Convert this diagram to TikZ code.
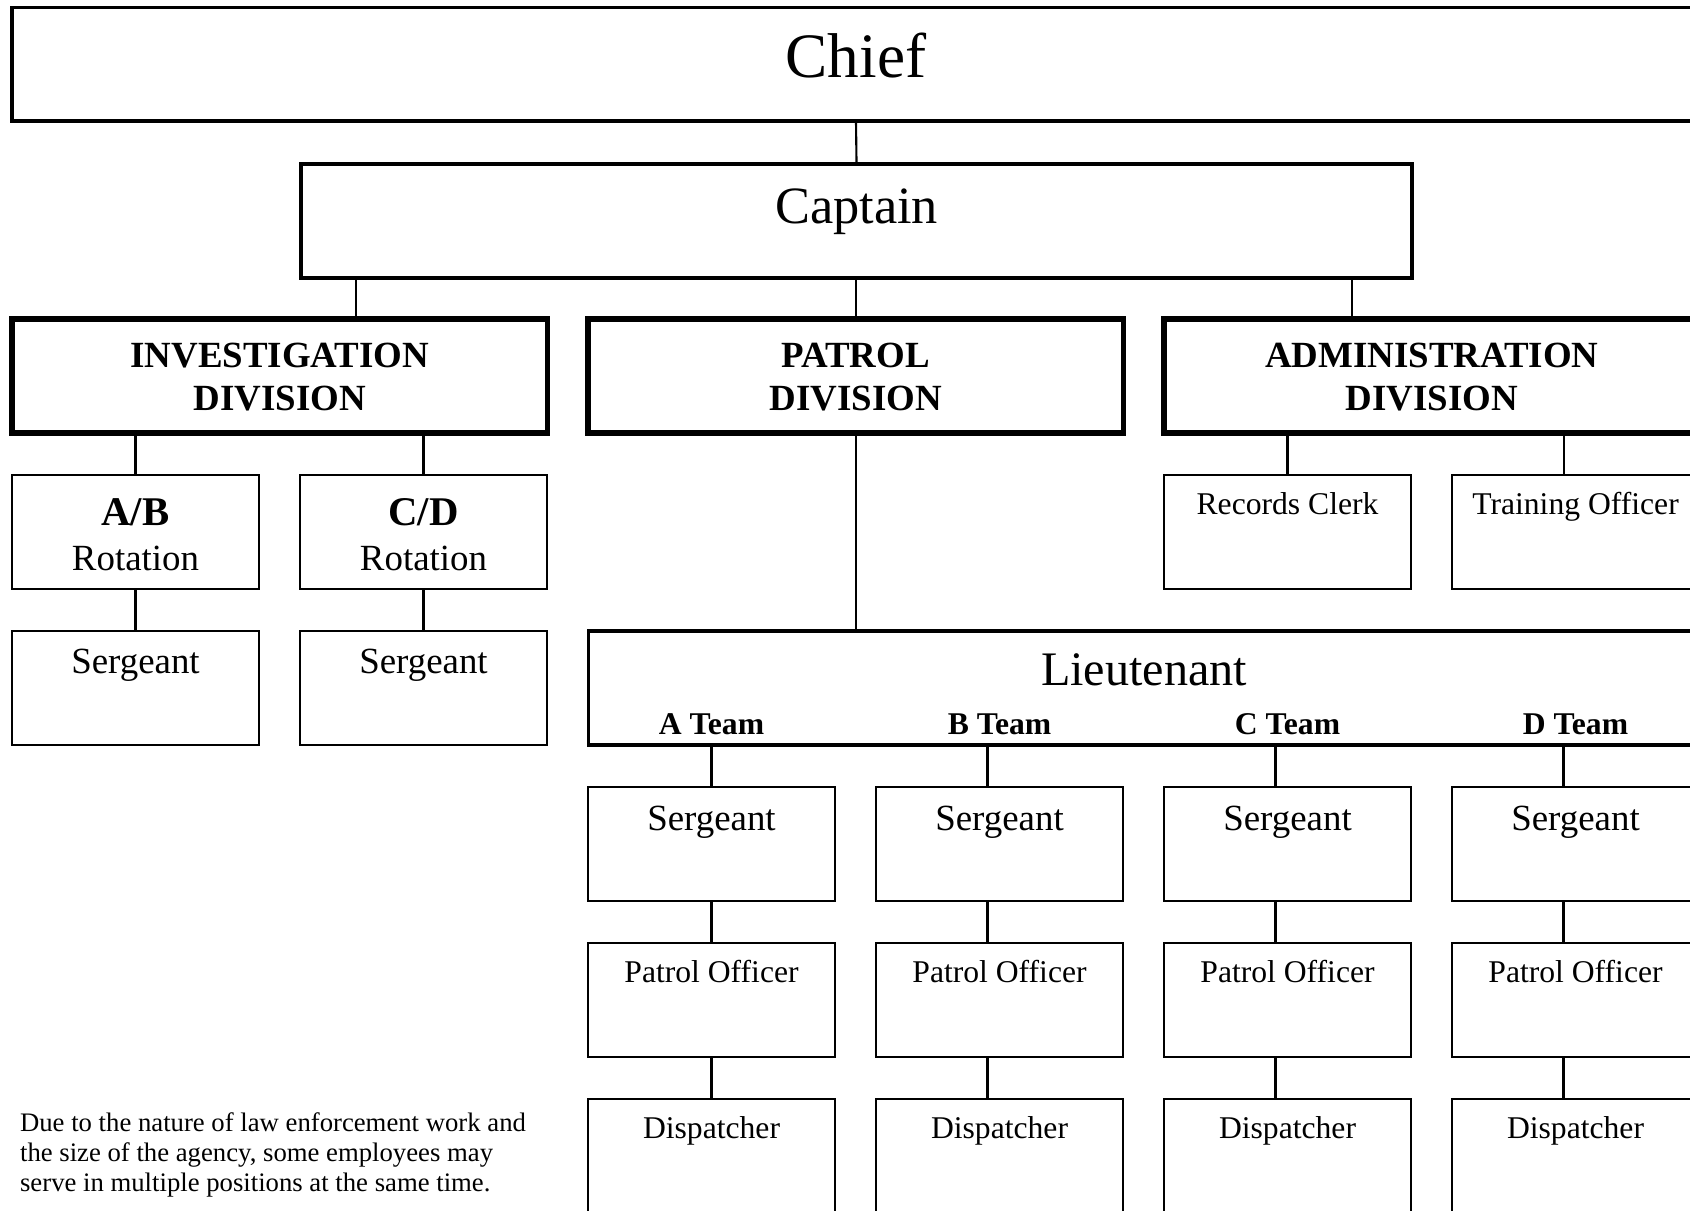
\documentclass[tikz,border=0pt]{standalone}
\usepackage{fontspec}
\setmainfont{Liberation Serif}
\usetikzlibrary{positioning}

\begin{document}
\begin{tikzpicture}[
    headbox/.style={rectangle, draw, line width=0.95pt, inner sep=0pt},
    division/.style={rectangle, draw, line width=1.6pt, inner sep=0pt, minimum width=5.355cm, align=center, font=\fontsize{10.5}{12.2}\selectfont\bfseries, text height=0.91cm, text depth=0.23cm},
    post/.style={rectangle, draw, line width=0.65pt, inner sep=0pt, minimum width=2.47cm, font=\fontsize{10.5}{12.8}\selectfont},
    staff/.style={post, font=\fontsize{9}{10.8}\selectfont, text height=0.39cm, text depth=0.75cm},
    team/.style={font=\fontsize{9}{10.8}\selectfont\bfseries, anchor=base, inner sep=0pt},
    link/.style={line width=0.6pt}
]
\useasboundingbox (0,0) rectangle (16.9,-12.1);
\clip (0,0) rectangle (16.9,-12.1);

% Command
\node[headbox, minimum width=16.88cm, font=\fontsize{18}{21}\selectfont, text height=0.705cm, text depth=0.43cm] (chief) at (8.56,-0.6425) {Chief};
\node[headbox, minimum width=11.11cm, font=\fontsize{14.9}{18}\selectfont, text height=0.60cm, text depth=0.54cm] (capt) at (8.565,-2.21) {Captain};

% Divisions
\node[division] (inv) at (2.7975,-3.76) {INVESTIGATION\\DIVISION};
\node[division] (patrol) at (8.5575,-3.76) {PATROL\\DIVISION};
\node[division] (admin) at (14.3175,-3.76) {ADMINISTRATION\\DIVISION};

% Investigation
\node[post, align=center, text height=0.95cm, text depth=0.19cm] (ab) at (1.355,-5.32) {{\fontsize{11.6}{12.8}\selectfont\bfseries A/B}\\Rotation};
\node[post, align=center, text height=0.95cm, text depth=0.19cm] (cd) at (4.235,-5.32) {{\fontsize{11.6}{12.8}\selectfont\bfseries C/D}\\Rotation};
\node[post, text height=0.42cm, text depth=0.72cm] (serAB) at (1.355,-6.88) {Sergeant};
\node[post, text height=0.42cm, text depth=0.72cm] (serCD) at (4.235,-6.88) {Sergeant};

% Administration
\node[staff] (records) at (12.875,-5.32) {Records Clerk};
\node[staff] (training) at (15.755,-5.32) {Training Officer};

% Patrol
\node[headbox, minimum width=11.11cm, font=\fontsize{13.7}{16}\selectfont, text height=0.545cm, text depth=0.595cm] (lieut) at (11.44,-6.88) {Lieutenant};
\node[team] (teamA) at (7.115,-7.34) {A Team};
\node[team] (teamB) at (9.995,-7.34) {B Team};
\node[team] (teamC) at (12.875,-7.34) {C Team};
\node[team] (teamD) at (15.755,-7.34) {D Team};

\node[post, text height=0.43cm, text depth=0.71cm] (serA) at (7.115,-8.44) {Sergeant};
\node[post, text height=0.43cm, text depth=0.71cm] (serB) at (9.995,-8.44) {Sergeant};
\node[post, text height=0.43cm, text depth=0.71cm] (serC) at (12.875,-8.44) {Sergeant};
\node[post, text height=0.43cm, text depth=0.71cm] (serD) at (15.755,-8.44) {Sergeant};

\node[staff] (polA) at (7.115,-10.0) {Patrol Officer};
\node[staff] (polB) at (9.995,-10.0) {Patrol Officer};
\node[staff] (polC) at (12.875,-10.0) {Patrol Officer};
\node[staff] (polD) at (15.755,-10.0) {Patrol Officer};

\node[staff] (disA) at (7.115,-11.56) {Dispatcher};
\node[staff] (disB) at (9.995,-11.56) {Dispatcher};
\node[staff] (disC) at (12.875,-11.56) {Dispatcher};
\node[staff] (disD) at (15.755,-11.56) {Dispatcher};

% Note
\node[anchor=north west, inner sep=0pt, align=left, font=\fontsize{7.6}{8.6}\selectfont] (note) at (0.194,-11.12) {Due to the nature of law enforcement work and\\the size of the agency, some employees may\\serve in multiple positions at the same time.};

% Links
\coordinate (jInv) at ([xshift=7.625mm]inv.north);
\coordinate (jAdmin) at ([xshift=-7.975mm]admin.north);
\coordinate (jTrain) at ([xshift=-1.15mm]training.north);
\coordinate (jB) at ([xshift=-1.2mm]serB.north);
\coordinate (jC) at ([xshift=-1.2mm]serC.north);
\coordinate (jD) at ([xshift=-1.2mm]serD.north);

\draw[link] (chief.south) -- (capt.north);
\draw[link] (jInv |- capt.south) -- (jInv);
\draw[link] (capt.south -| patrol.north) -- (patrol.north);
\draw[link] (jAdmin |- capt.south) -- (jAdmin);

\draw[link] (ab.north |- inv.south) -- (ab.north);
\draw[link] (cd.north |- inv.south) -- (cd.north);
\draw[link] (ab.south) -- (serAB.north);
\draw[link] (cd.south) -- (serCD.north);

\draw[link] (records.north |- admin.south) -- (records.north);
\draw[link] (jTrain |- admin.south) -- (jTrain);

\draw[link] (patrol.south) -- (patrol.south |- lieut.north);
\draw[link] (serA.north |- lieut.south) -- (serA.north);
\draw[link] (jB |- lieut.south) -- (jB);
\draw[link] (jC |- lieut.south) -- (jC);
\draw[link] (jD |- lieut.south) -- (jD);

\draw[link] (serA.south) -- (polA.north);
\draw[link] (polA.south) -- (disA.north);
\draw[link] ([xshift=-1.2mm]serB.south) -- ([xshift=-1.2mm]polB.north);
\draw[link] ([xshift=-1.2mm]polB.south) -- ([xshift=-1.2mm]disB.north);
\draw[link] ([xshift=-1.2mm]serC.south) -- ([xshift=-1.2mm]polC.north);
\draw[link] ([xshift=-1.2mm]polC.south) -- ([xshift=-1.2mm]disC.north);
\draw[link] ([xshift=-1.2mm]serD.south) -- ([xshift=-1.2mm]polD.north);
\draw[link] ([xshift=-1.2mm]polD.south) -- ([xshift=-1.2mm]disD.north);

\end{tikzpicture}
\end{document}
